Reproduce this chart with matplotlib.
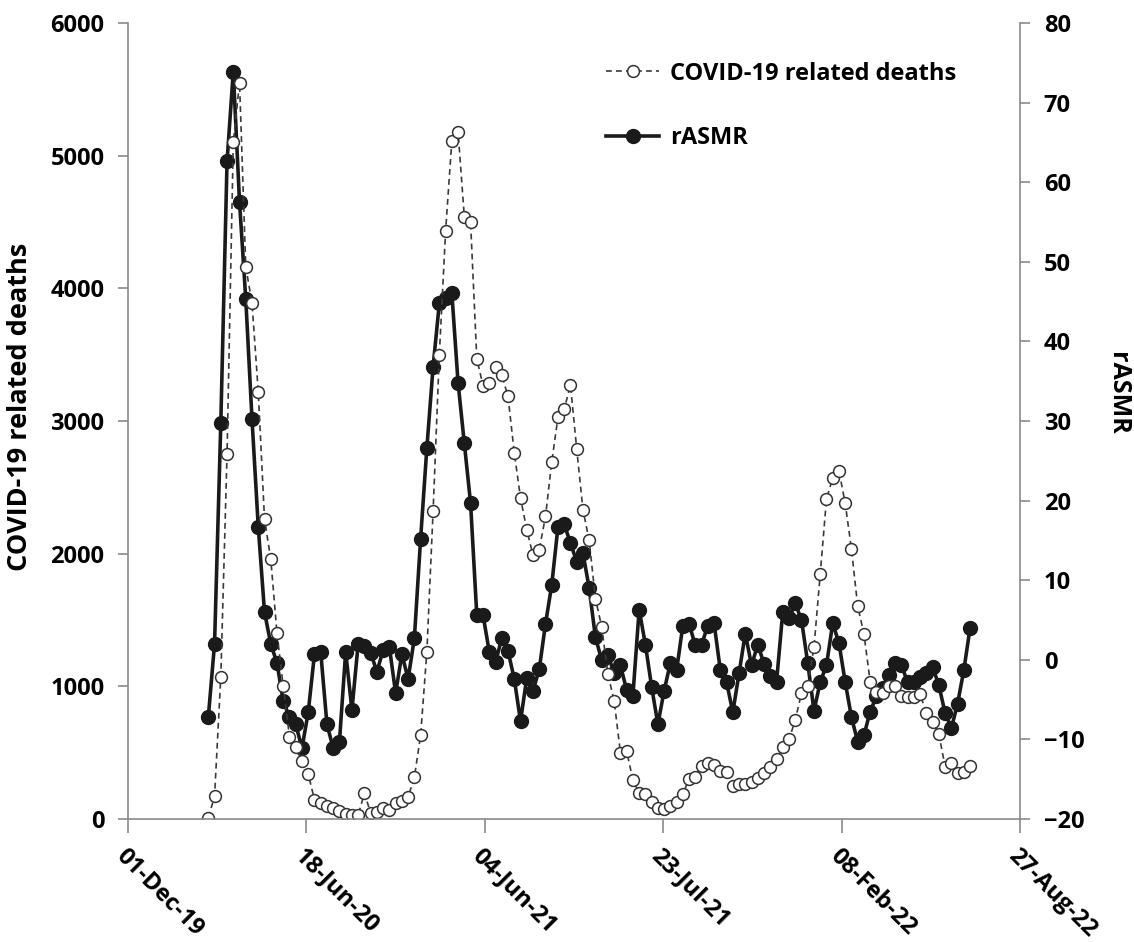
import pandas as pd
import matplotlib
matplotlib.use('Agg')
import matplotlib.pyplot as plt

plt.rcParams['font.family'] = ['Open Sans', 'DejaVu Sans']
plt.rcParams['font.weight'] = 'bold'

# weekly points, first week ending 29-Feb-20
weeks = pd.date_range('2020-02-29', periods=123, freq='7D')

deaths = [10, 170, 1070, 2750, 5100, 5550, 4160, 3890, 3220, 2260,
          1960, 1400, 1000, 620, 540, 440, 340, 145, 120, 100,
          80, 60, 35, 30, 30, 195, 45, 55, 80, 65,
          120, 135, 165, 315, 630, 1260, 2320, 3500, 4430, 5110,
          5180, 4540, 4500, 3470, 3265, 3285, 3410, 3345, 3185, 2760,
          2420, 2180, 1990, 2030, 2280, 2690, 3030, 3090, 3270, 2790,
          2330, 2100, 1660, 1450, 1090, 890, 500, 510, 295, 195,
          190, 130, 85, 75, 100, 130, 190, 300, 320, 400,
          420, 410, 360, 355, 245, 265, 265, 280, 310, 350,
          395, 450, 545, 600, 745, 950, 1005, 1295, 1845, 2410,
          2570, 2625, 2380, 2035, 1605, 1395, 1035, 960, 950, 1000,
          1000, 930, 920, 920, 940, 800, 730, 640, 395, 420,
          345, 355, 400]

rasmr = [-7.2, 2.0, 29.7, 62.6, 73.9, 57.5, 45.3, 30.2, 16.7, 6.0,
         2.0, -0.4, -5.2, -7.2, -8.1, -11.1, -6.6, 0.7, 1.0, -8.1,
         -11.1, -10.3, 1.0, -6.3, 2.0, 1.7, 0.9, -1.5, 1.2, 1.6,
         -4.2, 0.7, -2.4, 2.7, 15.2, 26.6, 36.8, 44.8, 45.4, 46.1,
         34.8, 27.2, 19.7, 5.6, 5.6, 1.0, -0.3, 2.7, 1.1, -2.4,
         -7.7, -2.3, -3.9, -1.2, 4.5, 9.4, 16.7, 17.0, 14.7, 12.3,
         13.4, 9.0, 2.8, 0.0, 0.6, -1.7, -0.7, -3.8, -4.5, 6.3,
         1.9, -3.4, -8.1, -3.9, -0.4, -1.3, 4.3, 4.5, 1.8, 1.9,
         4.3, 4.6, -1.3, -2.8, -6.6, -1.7, 3.3, -0.7, 1.9, -0.5,
         -2.0, -2.8, 6.0, 5.2, 7.1, 5.0, -0.4, -6.4, -2.8, -0.7,
         4.6, 2.1, -2.8, -7.2, -10.3, -9.5, -6.5, -4.6, -3.5, -1.9,
         -0.4, -0.7, -2.8, -2.8, -2.2, -1.7, -0.9, -3.2, -6.7, -8.6,
         -5.5, -1.3, 4.0]

tick_dates = pd.date_range('2019-12-01', periods=6, freq='200D')
tick_labels = ['01-Dec-19', '18-Jun-20', '04-Jun-21', '23-Jul-21', '08-Feb-22', '27-Aug-22']

fig = plt.figure(figsize=(11.34, 9.42), dpi=100)
ax = fig.add_axes([0.1129, 0.1306, 0.7866, 0.845])
ax2 = ax.twinx()

grey = '#8a8a8a'
fs = 17

l1, = ax.plot(weeks, deaths, linestyle=(0, (3.5, 2.5)), color='#3a3a3a', lw=1.2,
              marker='o', ms=8.5, mfc='white', mec='#333333', mew=1.1,
              label='COVID-19 related deaths')
l2, = ax2.plot(weeks, rasmr, color='#1a1a1a', lw=2.6, marker='o', ms=10,
               mfc='#1a1a1a', mec='#1a1a1a', label='rASMR')

ax.set_xlim(tick_dates[0], tick_dates[-1])
ax.set_ylim(0, 6000)
ax2.set_ylim(-20, 80)
ax.set_yticks(range(0, 6001, 1000))
ax2.set_yticks(range(-20, 81, 10))
ax2.set_yticklabels([str(v).replace('-', '\u2212') for v in range(-20, 81, 10)])
ax.set_xticks(tick_dates)
ax.set_xticklabels(tick_labels, rotation=-45, ha='left', va='top',
                   rotation_mode='anchor')

for a in (ax, ax2):
    a.spines['top'].set_visible(False)
    for s in ('left', 'right', 'bottom'):
        a.spines[s].set_color(grey)
        a.spines[s].set_linewidth(1.2)
ax.spines['right'].set_visible(False)
ax2.spines['left'].set_visible(False)
ax2.spines['bottom'].set_visible(False)

ax.tick_params(axis='y', direction='out', length=7, width=1.2, color=grey,
               labelsize=fs, pad=10)
ax.tick_params(axis='x', direction='out', length=10, width=1.2, color=grey,
               labelsize=fs, pad=8)
ax2.tick_params(axis='y', direction='out', length=7, width=1.2, color=grey,
                labelsize=fs, pad=10)

ax.set_ylabel('COVID-19 related deaths', fontsize=19.5, fontweight='bold')
ax.yaxis.set_label_coords(-0.107, 0.518)
ax2.set_ylabel('rASMR', fontsize=18, fontweight='bold', rotation=270, va='bottom')
ax2.yaxis.set_label_coords(1.095, 0.535)

ax.legend(handles=[l1, l2], loc='upper left', bbox_to_anchor=(0.512, 0.978),
          frameon=False, fontsize=fs, handlelength=2.25, labelspacing=1.7,
          handletextpad=0.45)
ax.set_zorder(ax2.get_zorder() + 1)
ax.patch.set_visible(False)

fig.savefig('out.png', dpi=100)
